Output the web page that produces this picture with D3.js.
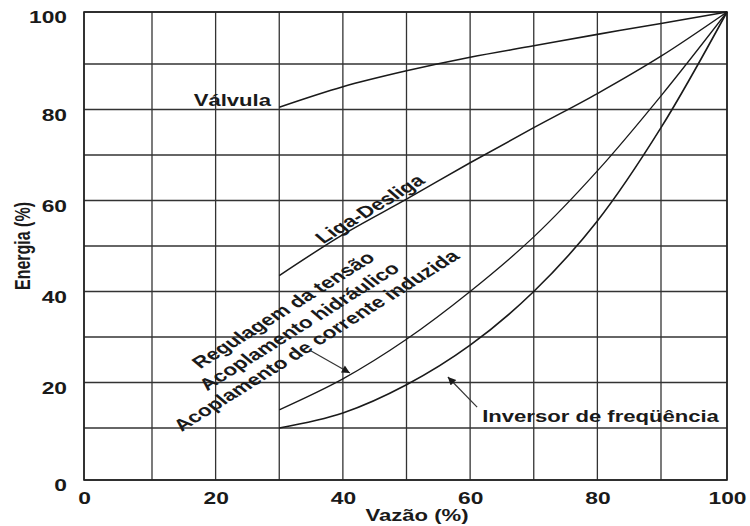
<!DOCTYPE html>
<html>
<head>
<meta charset="utf-8">
<script src="https://cdn.jsdelivr.net/npm/d3@7"></script>
<style>
  html, body { margin: 0; padding: 0; background: #fff; }
  svg { display: block; font-family: "Liberation Sans", Arial, sans-serif; font-weight: bold; }
</style>
</head>
<body>
<svg id="chart" width="750" height="526"></svg>
<script>
// ---- data ----
const xTicks = [0, 20, 40, 60, 80, 100];
const yTicks = [0, 20, 40, 60, 80, 100];
const gridValues = [0, 10, 20, 30, 40, 50, 60, 70, 80, 90, 100];
const flow = [30, 40, 50, 60, 70, 80, 90, 100];               // Vazão (%)
const valvula = [80.5, 85, 88.5, 91.3, 93.5, 95.7, 97.8, 100];
const ligaDesliga = [43.5, 52.5, 60.3, 68.3, 76, 83.5, 91.5, 100];
const acoplamento = [14, 20.8, 29.5, 40, 52, 66.5, 83, 100];  // regulagem / acoplamentos
const inversor = [10, 13.3, 19.5, 28.2, 40, 55.5, 76, 100];
const xTitle = "Vazão (%)";
const yTitle = "Energia (%)";

// ---- scales (the scanned grid has wider outer cells) ----
const x = d3.scaleLinear().domain([0, 10, 90, 100]).range([84, 152, 661, 727]);
const y = d3.scaleLinear().domain([0, 10, 90, 100]).range([480, 428, 64, 12]);

const S = 1.38; // horizontal stretch of the lettering in the reference
const ink = "#1a1a1a";
const svg = d3.select("#chart");

// grid
const grid = svg.append("g").attr("stroke", "#333").attr("stroke-width", 1.3);
grid.selectAll("line.v").data(gridValues).join("line")
  .attr("x1", d => x(d)).attr("x2", d => x(d)).attr("y1", y(0)).attr("y2", y(100));
grid.selectAll("line.h").data(gridValues).join("line")
  .attr("y1", d => y(d)).attr("y2", d => y(d)).attr("x1", x(0)).attr("x2", x(100));
svg.append("rect")
  .attr("x", x(0)).attr("y", y(100)).attr("width", x(100) - x(0)).attr("height", y(0) - y(100))
  .attr("fill", "none").attr("stroke", "#222").attr("stroke-width", 1.6);

// axes
const yAxis = svg.append("g").attr("transform", `translate(${x(0)},0)`)
  .call(d3.axisLeft(y).tickValues(yTicks).tickSize(0).tickFormat(d3.format("d")));
yAxis.select(".domain").remove();
yAxis.selectAll("text")
  .attr("x", 0).attr("dy", "0.35em")
  .attr("transform", `translate(-17,5) scale(${S},1)`)
  .attr("font-size", 16.5).attr("font-family", "Liberation Sans, Arial, sans-serif")
  .attr("font-weight", "bold").attr("fill", ink);

const xAxis = svg.append("g").attr("transform", `translate(0,${y(0)})`)
  .call(d3.axisBottom(x).tickValues(xTicks).tickSize(0).tickFormat(d3.format("d")));
xAxis.select(".domain").remove();
xAxis.selectAll("text")
  .attr("y", 0).attr("dy", null)
  .attr("transform", `translate(0,24) scale(${S},1)`)
  .attr("font-size", 16.5).attr("font-family", "Liberation Sans, Arial, sans-serif")
  .attr("font-weight", "bold").attr("fill", ink);

// stretched label helper (deg = on-screen angle, negative = rising)
function label(str, px, py, deg, anchor, size) {
  const a = Math.atan(S * Math.tan(deg * Math.PI / 180)) * 180 / Math.PI;
  svg.append("text")
    .attr("transform", `translate(${px},${py}) scale(${S},1) rotate(${a})`)
    .attr("text-anchor", anchor)
    .attr("font-size", size || 16)
    .attr("fill", ink)
    .text(str);
}

label(xTitle, 417, 521, 0, "middle", 16);
label(yTitle, 30, 246, -90, "middle", 16);

// curves
const line = d3.line().curve(d3.curveCatmullRom.alpha(0.5)).x((d, i) => x(flow[i])).y(d => y(d));
const series = [
  { v: valvula, w: 1.6 },
  { v: ligaDesliga, w: 1.5 },
  { v: acoplamento, w: 1.3 },
  { v: inversor, w: 1.6 }
];
svg.append("g").selectAll("path").data(series).join("path")
  .attr("d", d => line(d.v))
  .attr("fill", "none").attr("stroke", ink).attr("stroke-width", d => d.w);

// annotations
label("Válvula", x(28.7), y(80.8), 0, "end");
label("Liga-Desliga", x(45), y(57.2), -31, "middle", 16.3);
label("Regulagem da tensão", x(31.4), y(35), -32, "middle", 16.3);
label("Acoplamento hidráulico", x(33.9), y(31.4), -32, "middle", 16.3);
label("Acoplamento de corrente induzida", x(36.6), y(28.3), -32, "middle", 16.3);
label("Inversor de freqüência", x(61.9), y(11.3), 0, "start");

// arrows
svg.append("defs").append("marker")
  .attr("id", "arr").attr("viewBox", "0 0 10 10").attr("refX", 10).attr("refY", 5)
  .attr("markerWidth", 11).attr("markerHeight", 8).attr("markerUnits", "userSpaceOnUse")
  .attr("orient", "auto")
  .append("path").attr("d", "M0,0 L10,5 L0,10 Z").attr("fill", ink);

const arrows = [
  { from: [34.8, 27.1], to: [41.1, 22.1] },
  { from: [61.1, 14.6], to: [56.5, 21.2] }
];
svg.append("g").selectAll("line").data(arrows).join("line")
  .attr("x1", d => x(d.from[0])).attr("y1", d => y(d.from[1]))
  .attr("x2", d => x(d.to[0])).attr("y2", d => y(d.to[1]))
  .attr("stroke", "#333").attr("stroke-width", 1.2)
  .attr("marker-end", "url(#arr)");
</script>
</body>
</html>
